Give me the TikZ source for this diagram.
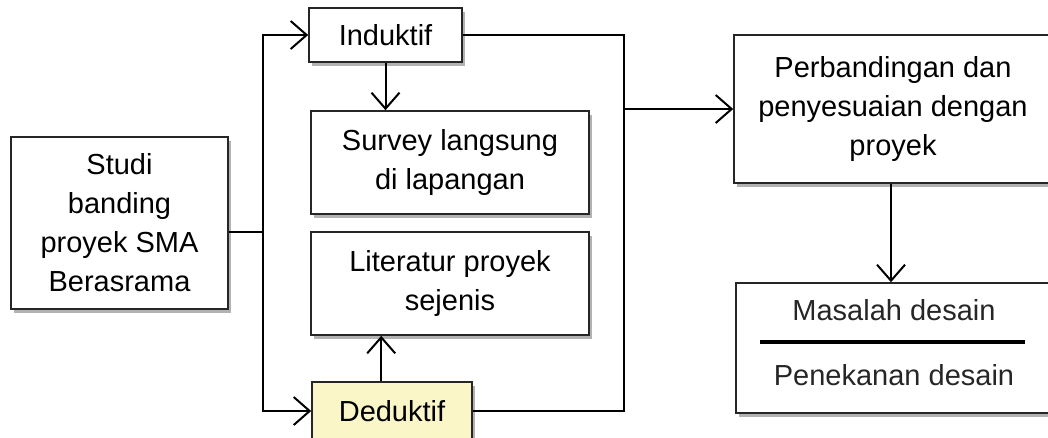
\documentclass[tikz,border=0pt]{standalone}
\usepackage{fontspec}
\setmainfont{Liberation Sans}
\usetikzlibrary{arrows.meta,shadows}
\definecolor{dedfill}{RGB}{250,246,200}
\begin{document}
\begin{tikzpicture}[
x=1pt,y=-1pt,
mybox/.style={
  draw=black!85,
  line width=1.6pt,
  fill=white,
  align=center,
  inner sep=0pt,
  font=\fontsize{29}{39}\selectfont,
  drop shadow={shadow xshift=3pt,shadow yshift=-4pt,fill=black,opacity=.3}
  },
mytext/.style={anchor=base,font=\fontsize{29}{39}\selectfont,text=black!85},
arr/.style={-{Straight Barb[length=16pt,width=28pt]}},
every path/.append style={line width=2pt}
]
\useasboundingbox (0,0) rectangle (1048,437);
\node[mybox,minimum width=217,minimum height=172] (studi) at (119.5,223) {Studi\\banding\\proyek SMA\\Berasrama};
\node[mybox,minimum width=153,minimum height=54] (induktif) at (385.5,35) {Induktif};
\node[mybox,minimum width=278,minimum height=103] (survey) at (450,162.5) {Survey langsung\\di lapangan};
\node[mybox,minimum width=278,minimum height=103] (literatur) at (450,283.5) {Literatur proyek\\sejenis};
\node[mybox,fill=dedfill,minimum width=160,minimum height=58] (deduktif) at (392,411) {Deduktif};
\node[mybox,minimum width=318,minimum height=148] (perbandingan) at (893,109) {Perbandingan dan\\penyesuaian dengan\\proyek};
\node[mybox,minimum width=316,minimum height=130] (masalah) at (894,348) {};
\node[mytext] (masalahtxt) at (894,320) {Masalah desain};
\node[mytext] (penekanan) at (894,385) {Penekanan desain};
\coordinate (sepl) at (760,342);
\coordinate (sepr) at (1025,342);
\draw[line width=4.5pt] (sepl) -- (sepr);
\coordinate (fork) at (263,232);
\coordinate (join) at (624,109);
\draw (fork -| studi.east) -- (fork);
\draw[arr] (fork) |- (induktif);
\draw[arr] (fork) |- (deduktif);
\draw[arr] (induktif) -- (induktif |- survey.north);
\draw[arr] (deduktif.north west) ++(70,0) coordinate (dup) -- (dup |- literatur.south);
\draw (induktif) -| (join);
\draw (deduktif) -| (join);
\draw[arr] (join) -- (join -| perbandingan.west);
\draw[arr] (perbandingan.south) ++(-2,0) coordinate (pdown) -- (pdown |- masalah.north);
\end{tikzpicture}
\end{document}
